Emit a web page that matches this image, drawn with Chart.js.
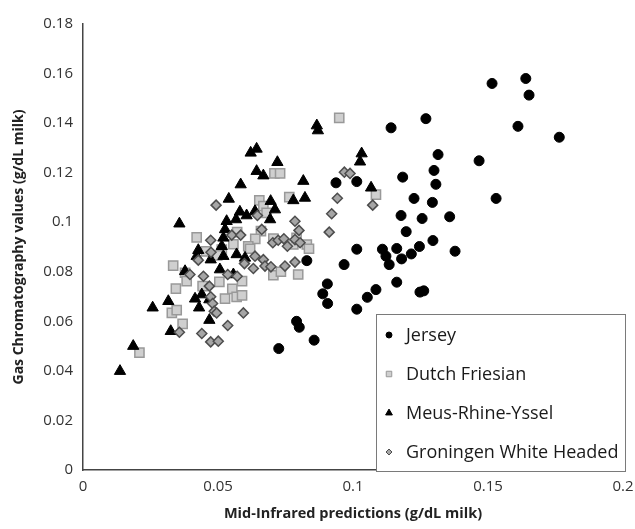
<!DOCTYPE html>
<html>
<head>
<meta charset="utf-8">
<script src="https://cdn.jsdelivr.net/npm/chart.js@4.4.1/dist/chart.umd.min.js"></script>
<style>
  html, body { margin: 0; padding: 0; background: #fff; }
  #wrap { width: 635px; height: 529px; }
</style>
</head>
<body>
<div id="wrap"><canvas id="chart" width="635" height="529"></canvas></div>
<script>
// values
const seriesNames = ["Jersey", "Dutch Friesian", "Meus-Rhine-Yssel", "Groningen White Headed"];

const jerseyX = [0.1515,0.164,0.1652,0.1611,0.1764,0.1141,0.127,0.1315,0.1467,0.13,0.1307,0.1184,0.0937,0.1014,0.153,0.1226,0.1294,0.1178,0.1256,0.1358,0.1197,0.1014,0.1109,0.1162,0.1246,0.1296,0.1378,0.1122,0.118,0.1216,0.1134,0.0967,0.0829,0.0905,0.0888,0.0906,0.1085,0.1053,0.1014,0.1162,0.1248,0.1262,0.0856,0.0791,0.0801,0.0725];
const jerseyY = [0.156,0.158,0.1513,0.1387,0.1343,0.1381,0.1418,0.1273,0.1248,0.1209,0.1153,0.1182,0.1159,0.1164,0.1096,0.1096,0.108,0.1027,0.1015,0.1022,0.0962,0.0891,0.0891,0.0894,0.0902,0.0926,0.0883,0.0863,0.0852,0.0872,0.0829,0.0829,0.0845,0.0751,0.0711,0.0672,0.0728,0.0697,0.0649,0.0758,0.0718,0.0723,0.0524,0.06,0.0576,0.049];

const friesianX = [0.0949,0.1085,0.0829,0.0837,0.0709,0.073,0.0764,0.0653,0.0668,0.068,0.0659,0.0638,0.0705,0.0612,0.0619,0.0557,0.0571,0.0421,0.0779,0.0791,0.0334,0.0378,0.0384,0.0344,0.0329,0.0347,0.0369,0.0209,0.0443,0.0505,0.0526,0.0553,0.0569,0.0589,0.0589,0.0705,0.0733,0.0797,0.0456,0.0514,0.0497];
const friesianY = [0.1421,0.1111,0.091,0.0893,0.1197,0.1197,0.1101,0.1088,0.1065,0.1038,0.0964,0.0933,0.0934,0.0903,0.0893,0.0911,0.096,0.0939,0.091,0.0937,0.0825,0.0796,0.0762,0.0732,0.0634,0.0645,0.059,0.0474,0.0742,0.0759,0.0692,0.0731,0.0699,0.0705,0.0762,0.0786,0.08,0.0789,0.0882,0.089,0.0866];

const mryX = [0.0866,0.087,0.0621,0.0643,0.072,0.0643,0.0668,0.0584,0.0816,0.0822,0.0779,0.054,0.0357,0.0695,0.0711,0.0693,0.0581,0.0606,0.0637,0.0567,0.0532,0.0526,0.052,0.0514,0.0427,0.0421,0.0473,0.052,0.0569,0.06,0.0378,0.0507,0.0557,0.0316,0.0258,0.0415,0.044,0.043,0.0468,0.0468,0.0325,0.0186,0.0137,0.1032,0.1026,0.1067];
const mryY = [0.139,0.137,0.128,0.1296,0.1242,0.1206,0.1188,0.1152,0.1166,0.1098,0.1088,0.1094,0.0994,0.1085,0.1051,0.1011,0.1042,0.1027,0.1044,0.1011,0.1004,0.0971,0.0937,0.0903,0.0887,0.0863,0.0849,0.0863,0.087,0.0856,0.0802,0.0809,0.0789,0.0681,0.0655,0.0691,0.0708,0.0655,0.0688,0.0605,0.056,0.05,0.0399,0.1277,0.1244,0.1139];

const groningenX = [0.0493,0.0646,0.0662,0.0785,0.08,0.0473,0.0551,0.0584,0.0703,0.0723,0.0744,0.0757,0.0785,0.0804,0.0598,0.0631,0.0637,0.0668,0.0674,0.0696,0.0748,0.0785,0.0427,0.0396,0.0446,0.0536,0.0571,0.0468,0.0473,0.048,0.0486,0.0495,0.0594,0.0536,0.044,0.0357,0.0473,0.0501,0.0968,0.0989,0.0942,0.0921,0.0912,0.1073,0.0474];
const groningenY = [0.1069,0.1027,0.0971,0.1004,0.0967,0.0927,0.0948,0.0948,0.0917,0.0927,0.0933,0.0903,0.093,0.0917,0.0833,0.0813,0.0863,0.0849,0.0823,0.082,0.0823,0.0839,0.0847,0.0789,0.0782,0.0789,0.0782,0.0742,0.0699,0.0672,0.0641,0.0634,0.0634,0.0583,0.0551,0.0556,0.0517,0.052,0.1202,0.1197,0.1097,0.1034,0.096,0.1069,0.0879];

const xTicks = [0, 0.05, 0.1, 0.15, 0.2];
const yTicks = [0, 0.02, 0.04, 0.06, 0.08, 0.1, 0.12, 0.14, 0.16, 0.18];

const xTitle = "Mid-Infrared predictions (g/dL milk)";
const yTitle = "Gas Chromatography values (g/dL milk)";

const FONT = "'Open Sans', 'DejaVu Sans', sans-serif";

function pts(xs, ys){
  return xs.map((x,i)=>({x: x, y: ys[i]}));
}
const fmt = (v)=> String(Number(v.toFixed(4)));

const styles = [
  {pointStyle:'circle',   radius:5,   bg:'#000000', border:'#000000', bw:1},
  {pointStyle:'rect',     radius:6.5, bg:'#cfcfcf', border:'#999999', bw:1.5},
  {pointStyle:'triangle', radius:6.5, bg:'#000000', border:'#000000', bw:1},
  {pointStyle:'rectRot',  radius:5,   bg:'#a6a6a6', border:'#4d4d4d', bw:1.5}
];

const seriesData = [pts(jerseyX, jerseyY), pts(friesianX, friesianY), pts(mryX, mryY), pts(groningenX, groningenY)];

const datasets = seriesData.map((d,i)=>({
  label: seriesNames[i],
  data: d,
  order: 3 - i,
  pointStyle: styles[i].pointStyle,
  pointRadius: styles[i].radius,
  pointHoverRadius: styles[i].radius,
  pointBackgroundColor: styles[i].bg,
  pointBorderColor: styles[i].border,
  pointBorderWidth: styles[i].bw,
  showLine: false
}));

// legend box inside the plot, bottom right
const legendBox = {
  id: 'legendBox',
  afterDraw(chart){
    const ctx = chart.ctx, a = chart.chartArea;
    const w = 249, h = 157;
    const x0 = a.right + 2 - w, y0 = a.bottom + 1 - h;
    ctx.save();
    ctx.fillStyle = '#fff';
    ctx.fillRect(x0, y0, w, h);
    ctx.strokeStyle = '#7a7a7a';
    ctx.lineWidth = 1;
    ctx.strokeRect(x0 + 0.5, y0 + 0.5, w, h);
    ctx.font = "18px " + FONT;
    ctx.textBaseline = 'middle';
    ctx.textAlign = 'left';
    seriesNames.forEach((name,i)=>{
      const cy = y0 + 21 + i * 39;
      const mx = x0 + 13;
      const s = styles[i];
      ctx.fillStyle = s.bg;
      ctx.strokeStyle = s.border;
      ctx.lineWidth = 1;
      Chart.helpers.drawPoint(ctx, {pointStyle: s.pointStyle, radius: s.radius * 0.6, rotation: 0, borderWidth: 1}, mx, cy);
      ctx.fillStyle = '#1a1a1a';
      ctx.fillText(name, x0 + 30, cy + 1);
    });
    ctx.restore();
  }
};

const bg = {
  id: 'bg',
  beforeDraw(chart){
    const ctx = chart.ctx;
    ctx.save();
    ctx.fillStyle = '#fff';
    ctx.fillRect(0, 0, chart.width, chart.height);
    ctx.restore();
  }
};

new Chart(document.getElementById('chart'), {
  type: 'scatter',
  data: { datasets: datasets },
  plugins: [bg, legendBox],
  options: {
    responsive: false,
    animation: false,
    events: [],
    layout: { padding: { left: 0, right: 12, top: 24, bottom: 0 } },
    plugins: { legend: { display: false }, tooltip: { enabled: false } },
    scales: {
      x: {
        type: 'linear',
        min: xTicks[0], max: xTicks[xTicks.length-1],
        afterBuildTicks: (s)=>{ s.ticks = xTicks.map(v=>({value:v})); },
        afterFit: (s)=>{ s.height = 59; s.paddingLeft = 0; s.paddingRight = 0; },
        grid: { display: false, drawTicks: false },
        border: { display: true, color: '#444', width: 1.5 },
        ticks: { padding: 8, color: '#333', font: { family: FONT, size: 15 }, maxRotation: 0, callback: fmt },
        title: { display: true, text: xTitle, color: '#222', padding: { top: 4, bottom: 6 }, font: { family: FONT, size: 14.5, weight: 'bold' } }
      },
      y: {
        type: 'linear',
        min: yTicks[0], max: yTicks[yTicks.length-1],
        afterBuildTicks: (s)=>{ s.ticks = yTicks.map(v=>({value:v})); },
        afterFit: (s)=>{ s.width = 83; s.paddingTop = 0; s.paddingBottom = 0; },
        grid: { display: false, drawTicks: false },
        border: { display: true, color: '#444', width: 1.5 },
        ticks: { padding: 10, color: '#333', font: { family: FONT, size: 15 }, callback: fmt },
        title: { display: true, text: yTitle, color: '#222', padding: { top: 11, bottom: 0 }, font: { family: FONT, size: 14, weight: 'bold' } }
      }
    }
  }
});
</script>
</body>
</html>
